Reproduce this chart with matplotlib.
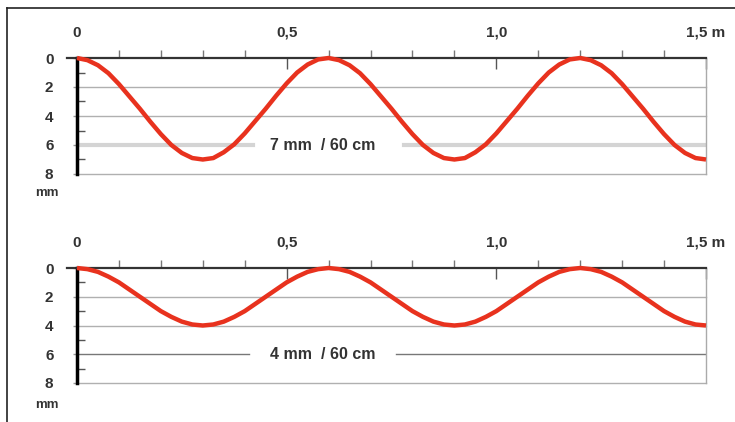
import matplotlib.pyplot as plt
import matplotlib
from matplotlib.lines import Line2D

matplotlib.rcParams['font.family'] = ['Liberation Sans', 'DejaVu Sans']
matplotlib.rcParams['font.weight'] = 'bold'
matplotlib.rcParams['font.size'] = 11

# positions along the rail (m), one reading every 2.5 cm
x_pos = [round(i * 0.025, 3) for i in range(61)]

# depth of the wave in mm
wave_7mm = [0, 0.15, 0.5, 1.05, 1.8, 2.65, 3.5, 4.4, 5.25, 6.0, 6.55, 6.9, 7.0,
            6.9, 6.5, 5.95, 5.2, 4.35, 3.5, 2.6, 1.75, 1.0, 0.45, 0.1, 0.0,
            0.15, 0.5, 1.05, 1.8, 2.65, 3.5, 4.4, 5.25, 6.0, 6.55, 6.9, 7.0,
            6.9, 6.5, 5.95, 5.2, 4.35, 3.5, 2.6, 1.75, 1.0, 0.45, 0.1, 0.0,
            0.15, 0.5, 1.05, 1.8, 2.65, 3.5, 4.4, 5.25, 6.0, 6.55, 6.9, 7.0]
wave_4mm = [0, 0.08, 0.27, 0.6, 1.0, 1.5, 2.0, 2.5, 3.0, 3.4, 3.73, 3.93, 4.0,
            3.93, 3.73, 3.4, 3.0, 2.5, 2.0, 1.5, 1.0, 0.6, 0.27, 0.08, 0.0,
            0.08, 0.27, 0.6, 1.0, 1.5, 2.0, 2.5, 3.0, 3.4, 3.73, 3.93, 4.0,
            3.93, 3.73, 3.4, 3.0, 2.5, 2.0, 1.5, 1.0, 0.6, 0.27, 0.08, 0.0,
            0.08, 0.27, 0.6, 1.0, 1.5, 2.0, 2.5, 3.0, 3.4, 3.73, 3.93, 4.0]

x_ticks = [0, 0.5, 1.0, 1.5]
x_labels = ['0', '0,5', '1,0', '1,5 m']
y_ticks = [0, 2, 4, 6, 8]
panel_labels = ['7 mm  / 60 cm', '4 mm  / 60 cm']

W, H = 735, 422
fig = plt.figure(figsize=(W / 100, H / 100), dpi=100)

# frame lines at left and top
fig.add_artist(Line2D([7 / W, 7 / W], [0, 1 - 8 / H], color='#222222', lw=1.2))
fig.add_artist(Line2D([7 / W, 1], [1 - 8 / H, 1 - 8 / H], color='#222222', lw=1.2))

red = '#e8321e'


def panel(top_px, bot_px, wave, label, lbl_gap, mid_style):
    ax = fig.add_axes([77 / W, 1 - bot_px / H, 629 / W, (bot_px - top_px) / H])
    ax.set_xlim(0, 1.5)
    ax.set_ylim(8, 0)
    ax.xaxis.tick_top()

    ax.spines['bottom'].set_visible(False)
    ax.spines['top'].set_color('#333333')
    ax.spines['top'].set_linewidth(1.6)
    ax.spines['left'].set_color('black')
    ax.spines['left'].set_linewidth(2.5)
    ax.spines['right'].set_color('#aaaaaa')
    ax.spines['right'].set_linewidth(1)

    # little stub of top line past the zero
    ax.plot([-0.025, 0], [0, 0], color='#333333', lw=1.6, clip_on=False)

    ax.set_xticks(x_ticks)
    ax.set_xticklabels(x_labels)
    ax.set_xticks([t / 10 for t in range(1, 15) if t not in (5, 10)], minor=True)
    ax.tick_params(axis='x', which='major', direction='in', length=8, width=1,
                   color='#555555', pad=13)
    ax.tick_params(axis='x', which='minor', direction='out', length=6, width=1,
                   color='#777777')

    ax.set_yticks(y_ticks)
    ax.set_yticks([1, 3, 5, 7], minor=True)
    ax.tick_params(axis='y', which='major', direction='out', length=3, width=1,
                   color='#999999', pad=14)
    ax.tick_params(axis='y', which='minor', direction='in', length=6, width=1,
                   color='#555555')
    for t in ax.get_xticklabels() + ax.get_yticklabels():
        t.set_color('#333333')

    for y in [2, 4, 8]:
        ax.axhline(y, color='#b0b0b0', lw=1, zorder=1, clip_on=False)
    ax.plot([0, lbl_gap[0]], [6, 6], **mid_style)
    ax.plot([lbl_gap[1], 1.5], [6, 6], **mid_style)
    ax.text(0.585, 6, label, ha='center', va='center', color='#333333',
            fontsize=11.5)

    ax.plot(x_pos, wave, color=red, lw=3.2, solid_capstyle='butt', zorder=3,
            clip_on=False)
    return ax


panel(58, 174, wave_7mm, panel_labels[0], (0.42, 0.78),
      dict(color='#d4d4d4', lw=3, zorder=1))
panel(268, 383, wave_4mm, panel_labels[1], (0.41, 0.76),
      dict(color='#777777', lw=1, zorder=1))

fig.text(47 / W, 1 - 193 / H, 'mm', ha='center', va='center', fontsize=9.5,
         color='#333333')
fig.text(47 / W, 1 - 405 / H, 'mm', ha='center', va='center', fontsize=9.5,
         color='#333333')

fig.savefig('out.png', dpi=100)
